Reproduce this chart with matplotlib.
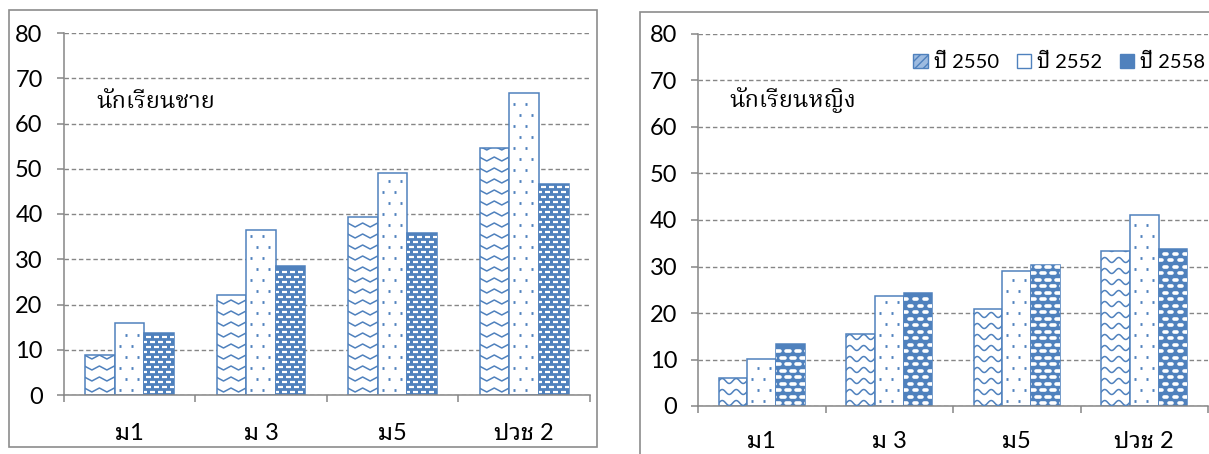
import matplotlib
matplotlib.use('Agg')
import matplotlib.pyplot as plt
import numpy as np
from matplotlib.collections import LineCollection
from matplotlib.patches import Rectangle, Patch
from matplotlib.transforms import IdentityTransform

# data
categories = ['ม1', 'ม 3', 'ม5', 'ปวช 2']
years = ['ปี 2550', 'ปี 2552', 'ปี 2558']
boys_2550 = [8.9, 22.2, 39.3, 54.5]
boys_2552 = [16.0, 36.4, 49.1, 66.8]
boys_2558 = [13.8, 28.4, 35.9, 46.6]
girls_2550 = [6.0, 15.5, 20.9, 33.4]
girls_2552 = [10.2, 23.6, 29.1, 41.1]
girls_2558 = [13.3, 24.4, 30.4, 33.8]
yticks = [0, 10, 20, 30, 40, 50, 60, 70, 80]

blue = '#4F81BD'
grey = '#868686'
fam = ['Lato', 'Noto Sans Thai Looped']
plt.rcParams['font.family'] = fam

W, H = 1209, 454
fig = plt.figure(figsize=(W / 100, H / 100), dpi=100)


def px_axes(x0, x1, ytop, ybot):
    return fig.add_axes([x0 / W, (H - ybot) / H, (x1 - x0) / W, (ybot - ytop) / H])


def to_px(ax, bar):
    x, y, w, h = bar.get_x(), bar.get_y(), bar.get_width(), bar.get_height()
    (a, b), (c, d) = ax.transData.transform([(x, y), (x + w, y + h)])
    return a, b, c, d


def add_lines(ax, bar, segs, color, lw, cap='butt'):
    lc = LineCollection(segs, colors=color, linewidths=lw, transform=IdentityTransform(),
                        capstyle=cap, zorder=3)
    ax.add_collection(lc, autolim=False)
    # clip to the bar after adding, add_collection would reset it
    lc.set_clip_path(bar)


def zigzag(ax, bars, wavy=False):
    for bar in bars:
        a, b, c, d = to_px(ax, bar)
        segs = []
        xs = np.arange(a - 8, c + 8, 1.0 if wavy else 7.5)
        for r in np.arange(b + 3, d + 6, 11):
            if wavy:
                ys = r + 2.5 * np.sin((xs - a) * 2 * np.pi / 14)
            else:
                ys = r + 4 * (np.arange(len(xs)) % 2)
            segs.append(np.column_stack([xs, ys]))
        add_lines(ax, bar, segs, blue, 1.1)


def dots(ax, bars):
    for bar in bars:
        a, b, c, d = to_px(ax, bar)
        segs = []
        for i, r in enumerate(np.arange(b + 5, d - 2, 11)):
            off = 0 if i % 2 == 0 else 6
            for x in np.arange(a + 5 + off, c - 2, 12):
                segs.append([(x - 1, r), (x + 1, r)])
        add_lines(ax, bar, segs, blue, 2.0)


def dashes(ax, bars, oval=False):
    for bar in bars:
        a, b, c, d = to_px(ax, bar)
        segs = []
        step_y = 6.5 if oval else 5
        step_x = 10 if oval else 8
        ln = 3.5 if oval else 5
        for i, r in enumerate(np.arange(b + 3, d - 1, step_y)):
            off = 0 if i % 2 == 0 else step_x / 2
            for x in np.arange(a - 10 + off, c + 10, step_x):
                segs.append([(x, r), (x + ln, r)])
        add_lines(ax, bar, segs, 'white', 2.6 if oval else 1.6, 'round' if oval else 'butt')


def panel(ax, s1, s2, s3, title, tx, ty, wavy, xpad):
    x = np.arange(len(categories))
    w = 0.225
    b1 = ax.bar(x - w, s1, w, facecolor='white', edgecolor=blue, linewidth=1.1, zorder=2)
    b2 = ax.bar(x, s2, w, facecolor='white', edgecolor=blue, linewidth=1.1, zorder=2)
    b3 = ax.bar(x + w, s3, w, facecolor=blue, edgecolor=blue, linewidth=1.1, zorder=2)
    ax.set_xlim(-0.5, len(categories) - 0.5)
    ax.set_ylim(0, 80)
    ax.set_yticks(yticks)
    ax.set_xticks(x)
    ax.set_xticklabels(categories)
    ax.set_xticks(np.arange(len(categories) + 1) - 0.5, minor=True)
    ax.tick_params(axis='x', which='major', length=0, pad=xpad, labelsize=17)
    ax.tick_params(axis='x', which='minor', length=5, width=1.1, color=grey, direction='out')
    ax.tick_params(axis='y', length=5, width=1.1, color=grey, pad=10, labelsize=17)
    ax.yaxis.grid(True, color=grey, linestyle=(0, (3.2, 2)), linewidth=1.0)
    ax.set_axisbelow(True)
    for s in ['top', 'right']:
        ax.spines[s].set_visible(False)
    for s in ['left', 'bottom']:
        ax.spines[s].set_color(grey)
        ax.spines[s].set_linewidth(1.1)
    ax.text(tx, ty, title, transform=ax.transAxes, ha='left', va='center',
            fontsize=17, family=['Noto Serif Thai', 'Lato'])
    fig.canvas.draw()
    zigzag(ax, b1, wavy)
    dots(ax, b2)
    dashes(ax, b3, oval=wavy)
    return b1, b2, b3


# frames round each chart
fig.add_artist(Rectangle((8.5 / W, (H - 447) / H), (597 - 8.5) / W, (447 - 10) / H,
                         transform=fig.transFigure, fill=False, edgecolor='#8c8c8c', linewidth=1.2))
fig.add_artist(Rectangle((640 / W, -10 / H), 600 / W, (H - 12 + 10) / H,
                         transform=fig.transFigure, fill=False, edgecolor='#8c8c8c', linewidth=1.2))

ax1 = px_axes(63.5, 590, 33, 395)
panel(ax1, boys_2550, boys_2552, boys_2558, 'นักเรียนชาย', 0.062, 0.81, False, 20)

ax2 = px_axes(698, 1208, 34, 406)
panel(ax2, girls_2550, girls_2552, girls_2558, 'นักเรียนหญิง', 0.061, 0.823, True, 18)

handles = [Patch(facecolor='#9dbbe0', edgecolor=blue, hatch='////', linewidth=1.0),
           Patch(facecolor='white', edgecolor=blue, linewidth=1.0),
           Patch(facecolor=blue, edgecolor=blue, linewidth=1.0)]
ax2.legend(handles, years, loc='center right', bbox_to_anchor=(0.995, 0.925), ncol=3,
           frameon=False, fontsize=14.5, handlelength=0.7, handleheight=0.7,
           handletextpad=0.3, columnspacing=0.9, borderpad=0, borderaxespad=0)

fig.savefig('out.png', dpi=100)
